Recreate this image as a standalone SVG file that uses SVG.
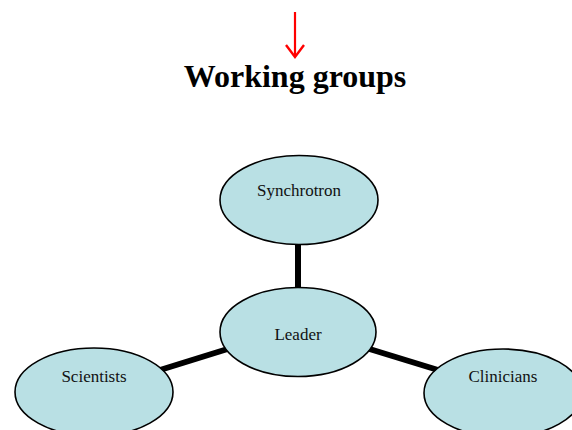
<svg xmlns="http://www.w3.org/2000/svg" width="572" height="430" viewBox="0 0 572 430">
<style>
.node ellipse{fill:#b9e0e4;stroke:#000;stroke-width:1.6}
.node text{font-family:"Liberation Serif",serif;font-size:17px;fill:#111;text-anchor:middle}
.conn line{stroke:#000;stroke-width:6}
</style>
<g id="arrow">
<line x1="295" y1="12" x2="295" y2="55" stroke="#f00" stroke-width="2.2"/>
<path d="M286,45 L295,57 L304,45" fill="none" stroke="#f00" stroke-width="2.4"/>
</g>
<text id="title" x="295" y="87" font-family="Liberation Serif,serif" font-weight="bold" font-size="32" text-anchor="middle">Working groups</text>
<g class="conn" id="connectors">
<line x1="298" y1="240" x2="298" y2="292"/>
<line x1="160" y1="370" x2="234" y2="347"/>
<line x1="363" y1="347" x2="438" y2="370"/>
</g>
<g class="node" id="synchrotron"><ellipse cx="299" cy="200" rx="79" ry="44.5"/><text x="299" y="196">Synchrotron</text></g>
<g class="node" id="leader"><ellipse cx="298" cy="332" rx="78" ry="44.5"/><text x="298" y="340">Leader</text></g>
<g class="node" id="scientists"><ellipse cx="94" cy="392" rx="79" ry="44"/><text x="94" y="382">Scientists</text></g>
<g class="node" id="clinicians"><ellipse cx="503" cy="393" rx="79" ry="44"/><text x="503" y="382">Clinicians</text></g>
</svg>
